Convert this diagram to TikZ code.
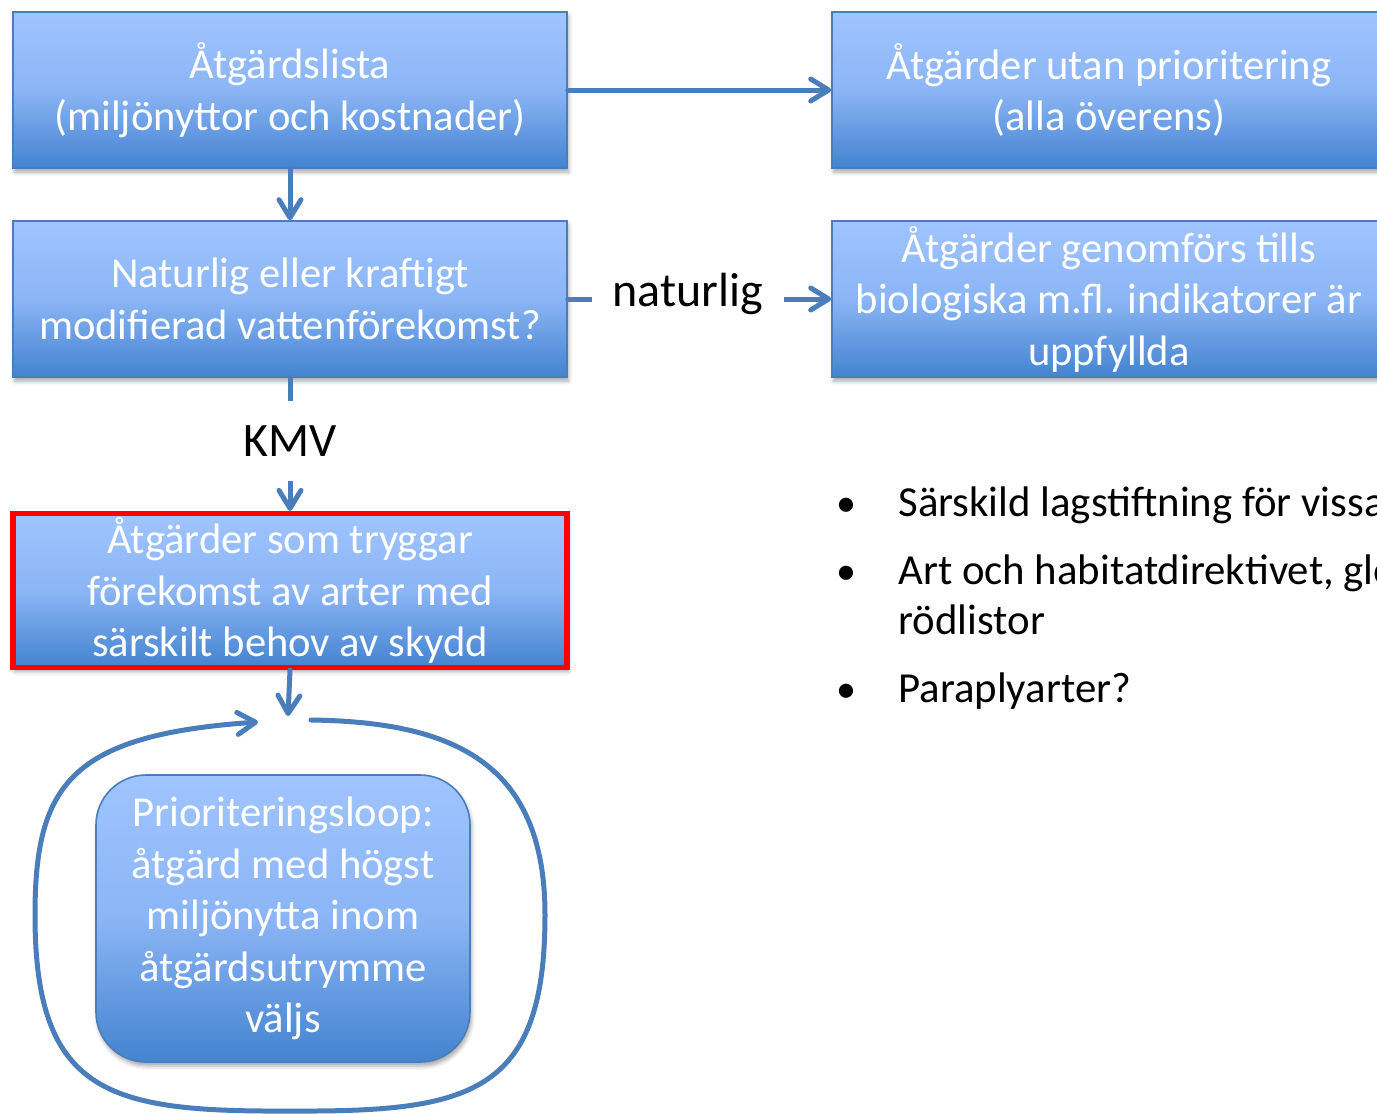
\documentclass[tikz,border=0pt]{standalone}
\usepackage{fontspec}
\setmainfont{Carlito}
\usetikzlibrary{arrows.meta,shadows.blur}

\definecolor{lineblue}{HTML}{4A7EBB}
\definecolor{boxtop}{HTML}{A0C4FF}
\definecolor{boxmid}{HTML}{8BB5F5}
\definecolor{boxbot}{HTML}{4383D0}

\tikzset{
  box/.style={draw=lineblue, line width=0.8pt,
    top color=boxtop, bottom color=boxbot, middle color=boxmid,
    text=white, align=center, inner sep=0pt,
    font=\fontsize{21.3}{25.75}\selectfont,
    minimum width=277pt, minimum height=78pt,
    blur shadow={shadow xshift=0.8pt, shadow yshift=-2pt,
      shadow blur radius=2pt, shadow opacity=35}},
  flow/.style={draw=lineblue, line width=2.5pt, line cap=round,
    -{Straight Barb[length=9pt, width=11pt, round]}},
  tag/.style={fill=white, text=black, inner sep=0pt,
    font=\fontsize{24}{28}\selectfont},
  bulletline/.style={anchor=base west, inner sep=0pt, text=black,
    font=\fontsize{21.4}{25}\selectfont},
  dot/.style={anchor=base, inner sep=0pt, font=\fontsize{20}{24}\selectfont}
}

\begin{document}
\begin{tikzpicture}[x=0.5pt, y=-0.5pt]
  \useasboundingbox (0,0) rectangle (1377,1114);

  % flow boxes
  \node[box] (lista) at (290,90) {Åtgärdslista\\(miljönyttor och kostnader)};
  \node[box] (utan) at (1109,90) {Åtgärder utan prioritering\\(alla överens)};
  \node[box] (typ) at (290,299) {Naturlig eller kraftigt\\modifierad vattenförekomst?};
  \node[box] (tills) at (1109,299) {Åtgärder genomförs tills\\biologiska m.fl. indikatorer är\\uppfyllda};
  \node[box, draw=red, line width=2.6pt, minimum height=77pt] (skydd) at (290,590.5)
    {Åtgärder som tryggar\\förekomst av arter med\\särskilt behov av skydd};
  \node[box, rounded corners=25pt, minimum width=187pt, minimum height=143.5pt]
    (loopbox) at (283,918.5)
    {Prioriteringsloop:\\åtgärd med högst\\miljönytta inom\\åtgärdsutrymme\\väljs};

  % connectors
  \draw[flow] (lista.east) -- (utan.west);
  \draw[flow] (lista.south) -- (typ.north);
  \draw[flow] (typ.east) -- node[tag, minimum width=96pt, minimum height=30pt,
    pos=0.455, yshift=2.5pt] (nat) {naturlig} (tills.west);
  \draw[flow] (typ.south) -- node[tag, minimum width=60pt, minimum height=40pt,
    yshift=1.5pt] (kmv) {KMV} (skydd.north);

  % priority loop around the selection box
  \coordinate (loopin) at (288,716);
  \coordinate (loopstart) at (311,720);
  \coordinate (loopend) at (258,722);
  \draw[flow] (skydd.south) -- (loopin);
  \draw[flow] (loopstart) .. controls (450,722) and (545,760) .. (545,915)
    .. controls (545,1095) and (470,1112) .. (290,1111)
    .. controls (110,1112) and (35,1095) .. (35,915)
    .. controls (35,785) and (70,735) .. (loopend);

  % bullet list
  \node[dot] (b1) at (846,516) {•};
  \node[bulletline] (t1) at (898,516) {Särskild lagstiftning för vissa};
  \node[dot] (b2) at (846,584) {•};
  \node[bulletline] (t2) at (898,584) {Art och habitatdirektivet, globala};
  \node[bulletline] (t2b) at (898,634) {rödlistor};
  \node[dot] (b3) at (846,702) {•};
  \node[bulletline] (t3) at (898,702) {Paraplyarter?};
\end{tikzpicture}
\end{document}
